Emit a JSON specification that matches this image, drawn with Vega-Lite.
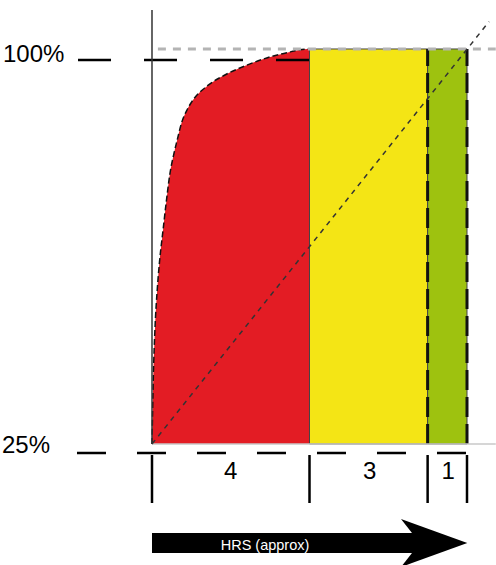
{
  "$schema": "https://vega.github.io/schema/vega-lite/v6.json",
  "width": 496,
  "height": 565,
  "padding": 0,
  "autosize": {"type": "none"},
  "config": {"view": {"stroke": null}},
  "datasets": {
    "curve": [
      {"h": 0, "p": 25},
      {"h": 0.033, "p": 37.5},
      {"h": 0.076, "p": 47},
      {"h": 0.135, "p": 54.5},
      {"h": 0.196, "p": 60},
      {"h": 0.279, "p": 65.5},
      {"h": 0.363, "p": 71},
      {"h": 0.457, "p": 76.4},
      {"h": 0.559, "p": 80.2},
      {"h": 0.643, "p": 82.8},
      {"h": 0.744, "p": 85.8},
      {"h": 0.881, "p": 88.3},
      {"h": 1.05, "p": 90.4},
      {"h": 1.389, "p": 92.9},
      {"h": 1.887, "p": 95.2},
      {"h": 2.4, "p": 96.9},
      {"h": 2.913, "p": 98.3},
      {"h": 3.421, "p": 99.3},
      {"h": 3.962, "p": 100},
      {"h": 4, "p": 100}
    ],
    "zones": [
      {"zone": "3", "h": 4, "h2": 7, "p": 25, "p2": 100},
      {"zone": "1", "h": 7, "h2": 8, "p": 25, "p2": 100}
    ],
    "greenEdges": [
      {"h": 7, "p": 25, "p2": 100},
      {"h": 8, "p": 25, "p2": 100}
    ],
    "diag": [
      {"h": 0, "p": 25},
      {"h": 8.56, "p": 105.2}
    ],
    "brackets": [
      {"h": 0, "p": 22.91, "p2": 13.8},
      {"h": 4, "p": 22.91, "p2": 13.8},
      {"h": 7, "p": 22.91, "p2": 13.8},
      {"h": 8, "p": 22.91, "p2": 13.8}
    ],
    "levelLabels": [
      {"label": "100%", "h": -3.784, "p": 97.59},
      {"label": "25%", "h": -3.81, "p": 23.29}
    ],
    "hourLabels": [
      {"label": "4", "h": 2.0, "p": 18.3},
      {"label": "3", "h": 5.53, "p": 18.3},
      {"label": "1", "h": 7.52, "p": 18.3}
    ],
    "arrowHead": [
      {"part": "upper", "h": 6.324, "p": 10.76, "p2": 10.76},
      {"part": "upper", "h": 6.603, "p": 10.0, "p2": 8.1},
      {"part": "lower", "h": 6.324, "p": 1.645, "p2": 1.645},
      {"part": "lower", "h": 6.603, "p": 4.3, "p2": 2.4},
      {"part": "main", "h": 6.603, "p": 10.0, "p2": 2.4},
      {"part": "main", "h": 8.008, "p": 6.2, "p2": 6.2}
    ]
  },
  "encoding": {
    "x": {"field": "h", "type": "quantitative", "axis": null, "scale": {"domain": [-3.8603, 8.7365], "nice": false, "zero": false}},
    "y": {"field": "p", "type": "quantitative", "axis": null, "scale": {"domain": [2.03, 109.3], "nice": false, "zero": false}}
  },
  "layer": [
    {
      "data": {"name": "curve"},
      "mark": {"type": "area", "color": "#e31c24", "interpolate": "monotone"},
      "encoding": {"y2": {"datum": 25}}
    },
    {
      "data": {"name": "zones"},
      "mark": {"type": "rect", "stroke": "#444444", "strokeWidth": 1},
      "encoding": {
        "x2": {"field": "h2"},
        "y2": {"field": "p2"},
        "fill": {"field": "zone", "type": "nominal", "legend": null, "scale": {"domain": ["3", "1"], "range": ["#f4e515", "#9ec20f"]}}
      }
    },
    {
      "data": {"name": "curve"},
      "mark": {"type": "line", "color": "#111111", "strokeWidth": 1.5, "strokeDash": [6, 3], "interpolate": "monotone"},
      "encoding": {}
    },
    {
      "data": {"name": "greenEdges"},
      "mark": {"type": "rule", "color": "#111111", "strokeWidth": 3, "strokeDash": [20, 7]},
      "encoding": {"y2": {"field": "p2"}}
    },
    {
      "data": {"values": [{"h": 0.15, "h2": 8.73, "p": 100}]},
      "mark": {"type": "rule", "color": "#b4b4b4", "strokeWidth": 3, "strokeDash": [8, 7]},
      "encoding": {"x2": {"field": "h2"}}
    },
    {
      "data": {"values": [{"h": -1.879, "h2": 4, "p": 97.91}]},
      "mark": {"type": "rule", "color": "#000000", "strokeWidth": 2.5, "strokeDash": [33, 33]},
      "encoding": {"x2": {"field": "h2"}}
    },
    {
      "data": {"values": [{"h": -1.905, "h2": 8, "p": 23.29}]},
      "mark": {"type": "rule", "color": "#000000", "strokeWidth": 2.5, "strokeDash": [29, 31]},
      "encoding": {"x2": {"field": "h2"}}
    },
    {
      "data": {"values": [{"h": 0, "p": 25, "p2": 107.4}]},
      "mark": {"type": "rule", "color": "#333333", "strokeWidth": 1.5},
      "encoding": {"y2": {"field": "p2"}}
    },
    {
      "data": {"values": [{"h": 0, "h2": 8.73, "p": 25}]},
      "mark": {"type": "rule", "color": "#c8c8c8", "strokeWidth": 1.5},
      "encoding": {"x2": {"field": "h2"}}
    },
    {
      "data": {"name": "diag"},
      "mark": {"type": "line", "color": "#333333", "strokeWidth": 1.5, "strokeDash": [5, 5]},
      "encoding": {}
    },
    {
      "data": {"name": "brackets"},
      "mark": {"type": "rule", "color": "#000000", "strokeWidth": 2.5},
      "encoding": {"y2": {"field": "p2"}}
    },
    {
      "data": {"name": "levelLabels"},
      "mark": {"type": "text", "align": "left", "baseline": "alphabetic", "fontSize": 24, "font": "Liberation Sans", "color": "#000000"},
      "encoding": {"text": {"field": "label"}}
    },
    {
      "data": {"name": "hourLabels"},
      "mark": {"type": "text", "align": "center", "baseline": "alphabetic", "fontSize": 24, "font": "Liberation Sans", "color": "#000000"},
      "encoding": {"text": {"field": "label"}}
    },
    {
      "data": {"values": [{"h": 0, "h2": 6.62, "p": 8.1, "p2": 4.3}]},
      "mark": {"type": "rect", "color": "#000000"},
      "encoding": {"x2": {"field": "h2"}, "y2": {"field": "p2"}}
    },
    {
      "data": {"name": "arrowHead"},
      "mark": {"type": "area", "color": "#000000", "orient": "vertical"},
      "encoding": {"y2": {"field": "p2"}, "detail": {"field": "part"}}
    },
    {
      "data": {"values": [{"label": "HRS (approx)", "h": 2.87, "p": 4.87}]},
      "mark": {"type": "text", "align": "center", "baseline": "alphabetic", "fontSize": 14.5, "font": "Liberation Sans", "color": "#ffffff"},
      "encoding": {"text": {"field": "label"}}
    }
  ]
}
